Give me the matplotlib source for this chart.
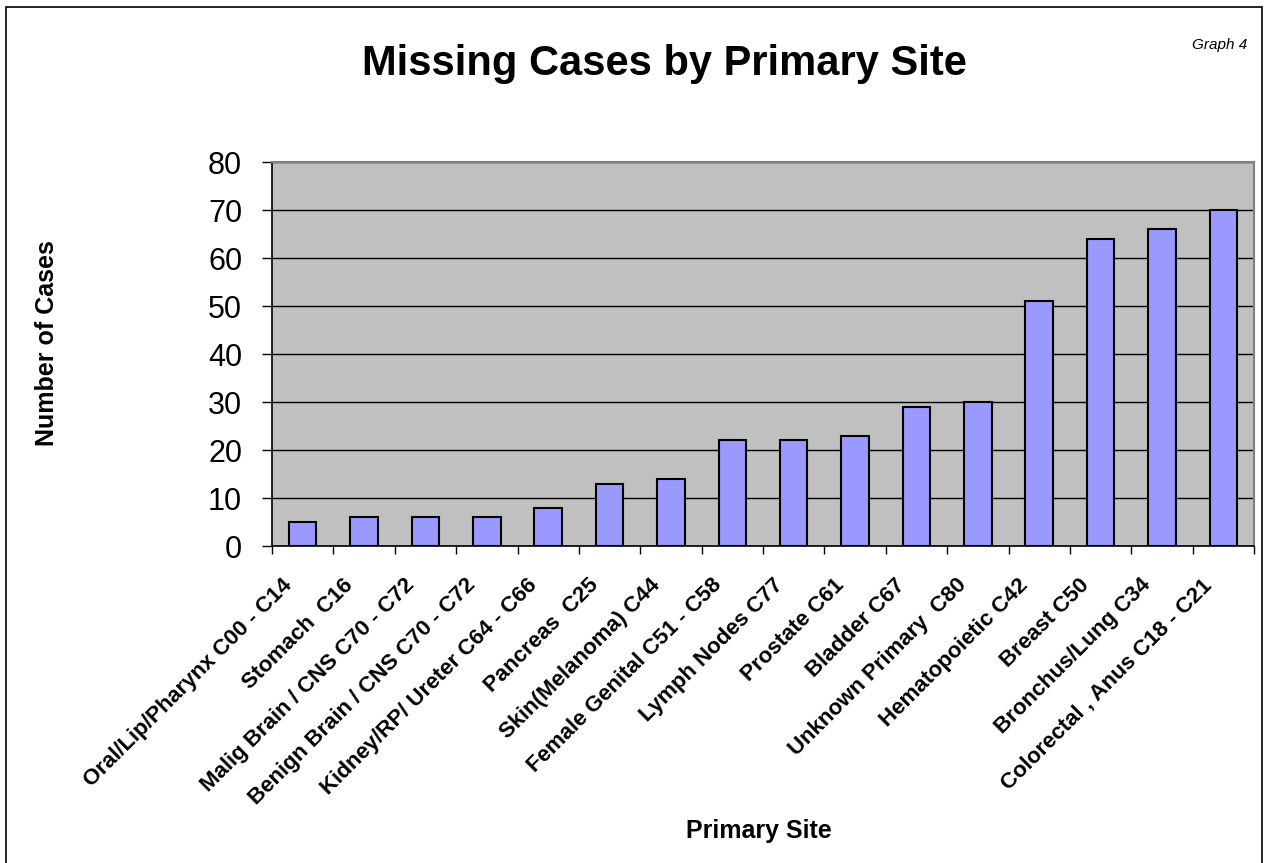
import matplotlib
matplotlib.use("Agg")
import matplotlib.pyplot as plt
from matplotlib.patches import Rectangle
import matplotlib.transforms as mtransforms
import numpy as np

categories = [
    "Oral/Lip/Pharynx C00 - C14",
    "Stomach  C16",
    "Malig Brain / CNS C70 - C72",
    "Benign Brain / CNS C70 - C72",
    "Kidney/RP/ Ureter C64 - C66",
    "Pancreas  C25",
    "Skin(Melanoma) C44",
    "Female Genital C51 - C58",
    "Lymph Nodes C77",
    "Prostate C61",
    "Bladder C67",
    "Unknown Primary  C80",
    "Hematopoietic C42",
    "Breast C50",
    "Bronchus/Lung C34",
    "Colorectal , Anus C18 - C21",
]
values = [5, 6, 6, 6, 8, 13, 14, 22, 22, 23, 29, 30, 51, 64, 66, 70]
y_ticks = [0, 10, 20, 30, 40, 50, 60, 70, 80]

plt.rcParams['font.family'] = ['Liberation Sans', 'DejaVu Sans']

W, H = 1266, 863
fig = plt.figure(figsize=(W / 100, H / 100), dpi=100)
fig.patch.set_facecolor('white')

# figure border
fig.add_artist(Rectangle((6 / W, -0.01), (1262 - 6) / W, 1 - 7 / H + 0.01,
                         transform=fig.transFigure, fill=False,
                         edgecolor='black', linewidth=1.2))

left, right, top, bottom = 272, 1254, 162, 546
ax = fig.add_axes([left / W, 1 - bottom / H, (right - left) / W, (bottom - top) / H])
ax.set_facecolor('#C0C0C0')

x = np.arange(len(categories))
ax.bar(x, values, width=0.45, color='#9999FF', edgecolor='black', linewidth=1.5, zorder=3)

ax.set_xlim(-0.5, len(categories) - 0.5)
ax.set_ylim(0, 80)
ax.set_yticks(y_ticks)
ax.set_yticklabels([str(v) for v in y_ticks], fontsize=22)
ax.yaxis.grid(True, color='black', linewidth=1.0, zorder=1)
ax.set_axisbelow(True)
ax.tick_params(axis='y', direction='out', length=7.5, width=1, pad=14)

ax.set_xticks(x)
ax.set_xticklabels(categories, rotation=45, ha='right', va='center',
                   rotation_mode='anchor', fontsize=16, fontweight='bold')
ax.tick_params(axis='x', which='major', length=0, pad=26)
offset = mtransforms.ScaledTranslation(-14 / 100, 0, fig.dpi_scale_trans)
for lbl in ax.get_xticklabels():
    lbl.set_transform(lbl.get_transform() + offset)
ax.set_xticks(np.arange(-0.5, len(categories)), minor=True)
ax.tick_params(axis='x', which='minor', direction='out', length=6, width=1)

for s in ['left', 'bottom']:
    ax.spines[s].set_color('black')
    ax.spines[s].set_linewidth(1.2)
for s in ['top', 'right']:
    ax.spines[s].set_color('#808080')
    ax.spines[s].set_linewidth(1.5)

fig.text(664 / W, 1 - 75 / H, "Missing Cases by Primary Site", ha='center', va='baseline',
         fontsize=30, fontweight='bold')
fig.text(1220 / W, 1 - 49 / H, "Graph 4", ha='center', va='baseline',
         fontsize=11, fontstyle='italic')
fig.text(47 / W, 1 - 343 / H, "Number of Cases", ha='center', va='center',
         rotation=90, fontsize=18, fontweight='bold')
fig.text(759 / W, 1 - 838 / H, "Primary Site", ha='center', va='baseline',
         fontsize=18, fontweight='bold')

fig.savefig("out.png", dpi=100)
